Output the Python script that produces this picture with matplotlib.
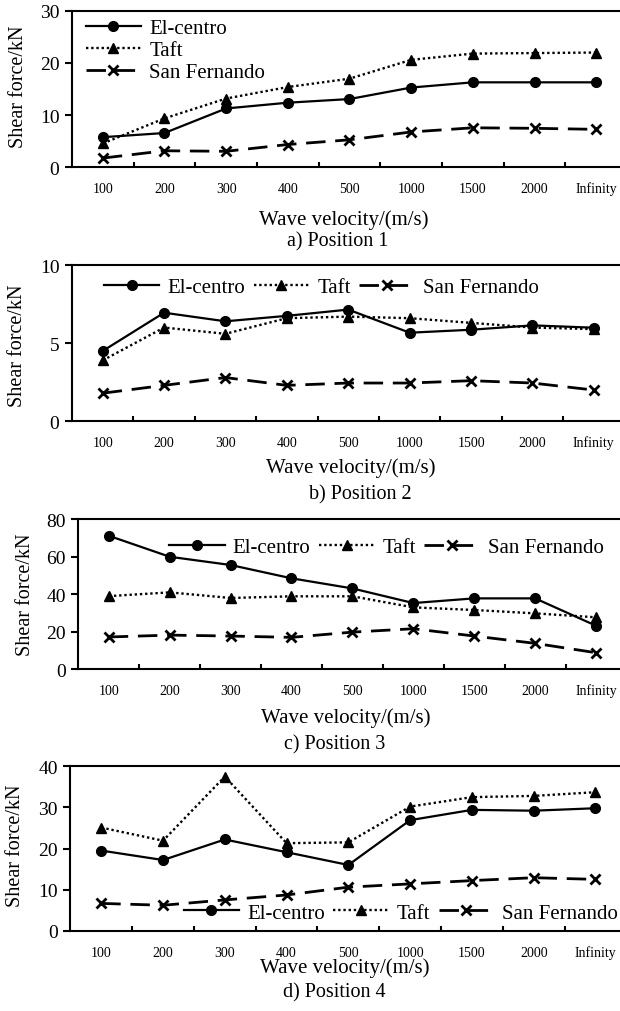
import matplotlib
matplotlib.use("Agg")
import matplotlib.pyplot as plt

plt.rcParams['font.family'] = ['Liberation Serif', 'DejaVu Serif']
plt.rcParams['axes.linewidth'] = 1.5

# Wave velocity categories (m/s)
velocities = ['100', '200', '300', '400', '500', '1000', '1500', '2000', 'Infinity']

# Shear force (kN) for each position and earthquake record
pos1_elcentro = [5.8, 6.6, 11.3, 12.4, 13.1, 15.3, 16.3, 16.3, 16.3]
pos1_taft = [4.6, 9.4, 13.2, 15.4, 17.0, 20.6, 21.8, 21.9, 22.0]
pos1_sanfernando = [1.8, 3.2, 3.1, 4.4, 5.3, 6.8, 7.6, 7.5, 7.3]

pos2_elcentro = [4.5, 6.95, 6.4, 6.75, 7.15, 5.67, 5.86, 6.14, 5.99]
pos2_taft = [3.9, 6.0, 5.6, 6.6, 6.7, 6.6, 6.3, 6.0, 5.9]
pos2_sanfernando = [1.8, 2.3, 2.8, 2.3, 2.45, 2.45, 2.6, 2.45, 2.0]

pos3_elcentro = [71.1, 59.9, 55.5, 48.4, 43.0, 35.2, 37.7, 37.7, 23.1]
pos3_taft = [38.9, 40.9, 37.9, 38.8, 38.8, 32.9, 31.5, 29.7, 27.6]
pos3_sanfernando = [17.1, 18.1, 17.6, 16.9, 19.7, 21.5, 17.6, 13.7, 8.7]

pos4_elcentro = [19.5, 17.2, 22.2, 19.1, 16.0, 26.9, 29.4, 29.2, 29.8]
pos4_taft = [25.1, 21.9, 37.5, 21.3, 21.5, 30.2, 32.5, 32.8, 33.7]
pos4_sanfernando = [6.65, 6.2, 7.5, 8.7, 10.6, 11.4, 12.2, 12.9, 12.5]

labels = ['El-centro', 'Taft', 'San Fernando']

fig = plt.figure(figsize=(6.2, 10.12), dpi=100)

# panel settings: axes rect, y ticks, caption, legend layout
panels = [
    dict(rect=[0.1161, 0.8335, 0.8952, 0.1549],
         data=(pos1_elcentro, pos1_taft, pos1_sanfernando),
         yticks=[0, 10, 20, 30], caption='a) Position 1',
         xlab=(0.490, -0.328), cap=(0.479, -0.469), ylab=(-0.0955, 0.52),
         leg=dict(ncol=1, loc='upper left', bbox_to_anchor=(0.025, 0.952),
                  labelspacing=0.12)),
    dict(rect=[0.1161, 0.5827, 0.8913, 0.1544],
         data=(pos2_elcentro, pos2_taft, pos2_sanfernando),
         yticks=[0, 5, 10], caption='b) Position 2',
         xlab=(0.505, -0.292), cap=(0.521, -0.465), ylab=(-0.098, 0.488),
         leg=dict(ncol=3, loc='center left', bbox_to_anchor=(0.058, 0.859))),
    dict(rect=[0.1263, 0.3379, 0.8842, 0.1482],
         data=(pos3_elcentro, pos3_taft, pos3_sanfernando),
         yticks=[0, 20, 40, 60, 80], caption='c) Position 3',
         xlab=(0.487, -0.32), cap=(0.468, -0.50), ylab=(-0.096, 0.50),
         leg=dict(ncol=3, loc='center left', bbox_to_anchor=(0.166, 0.813))),
    dict(rect=[0.1135, 0.0793, 0.8968, 0.1625],
         data=(pos4_elcentro, pos4_taft, pos4_sanfernando),
         yticks=[0, 10, 20, 30, 40], caption='d) Position 4',
         xlab=(0.494, -0.221), cap=(0.474, -0.372), ylab=(-0.098, 0.52),
         leg=dict(ncol=3, loc='center left', bbox_to_anchor=(0.204, 0.108))),
]

styles = [
    dict(linestyle='-', marker='o', markersize=7, linewidth=1.6),
    dict(linestyle=(0, (1, 1.2)), marker='^', markersize=7, linewidth=1.7),
    dict(linestyle=(0, (7, 3.5)), marker='x', markersize=7, linewidth=2.0,
         markeredgewidth=2.0),
]

x = list(range(len(velocities)))

for p in panels:
    ax = fig.add_axes(p['rect'])
    for series, lab, st in zip(p['data'], labels, styles):
        ax.plot(x, series, color='black', label=lab, **st)

    ax.set_xlim(-0.5, len(velocities) - 0.5)
    ax.set_ylim(p['yticks'][0], p['yticks'][-1])
    ax.set_yticks(p['yticks'])
    ax.set_xticks(x)
    ax.set_xticklabels(velocities, va='baseline')
    ax.set_xticks([i + 0.5 for i in range(len(velocities) - 1)], minor=True)
    ax.tick_params(axis='x', which='major', length=0, pad=18, labelsize=10)
    ax.tick_params(axis='x', which='minor', direction='in', length=3.5, width=1.5)
    ax.tick_params(axis='y', direction='out', length=5, width=1.5, pad=4,
                   labelsize=14)

    ax.set_xlabel('Wave velocity/(m/s)', fontsize=15, va='center')
    ax.xaxis.set_label_coords(*p['xlab'])
    ax.set_ylabel('Shear force/kN', fontsize=14.5, va='center')
    ax.yaxis.set_label_coords(*p['ylab'])
    ax.text(p['cap'][0], p['cap'][1], p['caption'], transform=ax.transAxes,
            ha='center', va='center', fontsize=14.5)

    leg_kw = dict(labelspacing=0.05)
    leg_kw.update(p['leg'])
    ax.legend(frameon=False, fontsize=15, handlelength=2.65, handletextpad=0.4,
              columnspacing=0.4, borderpad=0, borderaxespad=0, **leg_kw)

fig.savefig('out.png', dpi=100)
